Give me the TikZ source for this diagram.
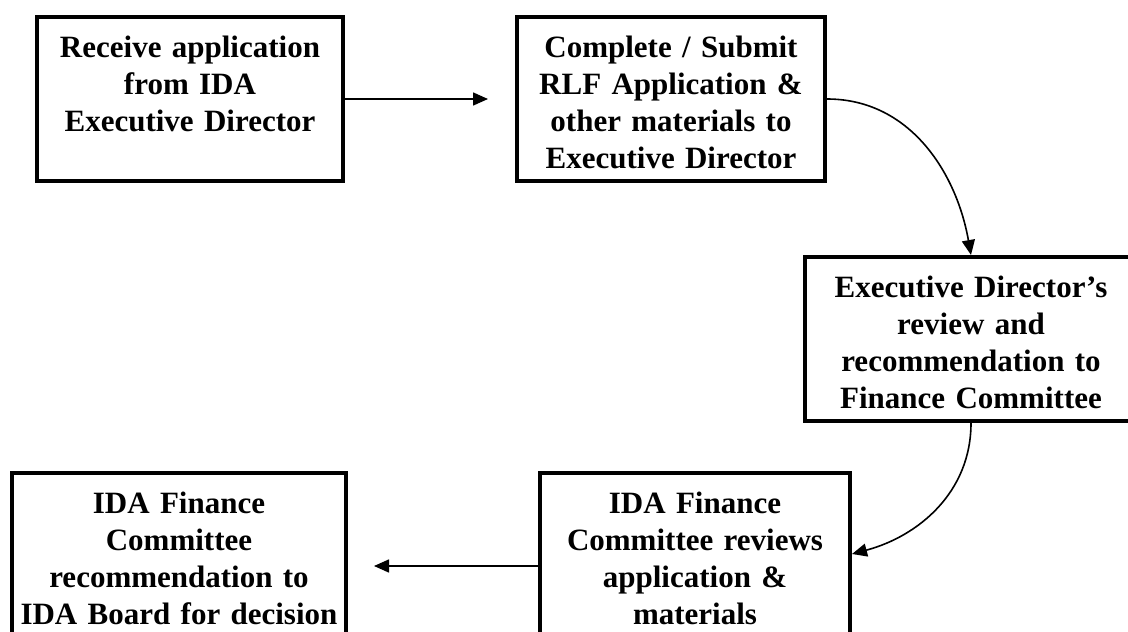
\documentclass[tikz,border=0pt]{standalone}
\usepackage{fontspec}
\setmainfont[WordSpace=0.8]{Liberation Serif}
\usetikzlibrary{arrows.meta}

\tikzset{stepbox/.style={draw,line width=4pt,anchor=north west,align=center,inner sep=0pt,
    text height=40pt,text depth=124pt,font=\bfseries\fontsize{31}{37}\selectfont}}
\tikzset{lowbox/.style={stepbox,text depth=146pt}}
\tikzset{flow/.style={-{Triangle[length=15pt,width=13pt]},line width=1.6pt}}

\begin{document}
\begin{tikzpicture}[x=1pt,y=1pt]
        \useasboundingbox (0,0) rectangle (1128,-632);
        \clip (0,0) rectangle (1128,-632);
        % the five steps
        \node[stepbox,minimum width=306pt,text width=302pt] (receive) at (35,-15)
            {Receive application\\from IDA\\Executive Director};
        \node[stepbox,minimum width=308pt,text width=304pt] (submit) at (515,-15)
            {Complete / Submit\\RLF Application \&\\other materials to\\Executive Director};
        \node[stepbox,minimum width=332pt,text width=328pt] (director) at (803,-255)
            {Executive Director’s\\review and\\recommendation to\\Finance Committee};
        \node[lowbox,minimum width=310pt,text width=306pt] (reviews) at (538,-471)
            {IDA Finance\\Committee reviews\\application \&\\materials};
        \node[lowbox,minimum width=334pt,text width=330pt] (board) at (10,-471)
            {IDA Finance\\Committee\\recommendation to\\IDA Board for decision};
        % connect the steps
        \draw[flow,shorten >=27pt] (receive) -- (submit);
        \draw[flow] (submit.east) to[out=0,in=100] (director.north);
        \draw[flow] (director.south) to[out=-90,in=15] ([yshift=12pt]reviews.east);
        \draw[flow,shorten >=26pt] (reviews) -- (board);
    \end{tikzpicture}
\end{document}
